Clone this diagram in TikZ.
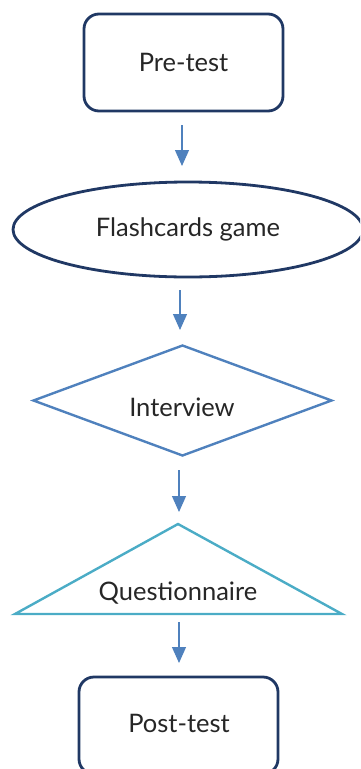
\documentclass[tikz,border=0pt]{standalone}
\usepackage{fontspec}
\setmainfont{Lato}
\usetikzlibrary{arrows.meta,shapes.geometric}
\definecolor{navy}{HTML}{203864}
\definecolor{midblue}{HTML}{4F81BD}
\definecolor{cyanb}{HTML}{4BACC6}
\definecolor{txt}{HTML}{262626}
\tikzset{
  lbl/.style={font=\fontsize{25.5}{28}\selectfont, text=txt, inner sep=0pt},
  rbox/.style={draw=navy, line width=2.8pt, rounded corners=15pt, minimum width=199pt, minimum height=97pt, lbl},
  oval/.style={draw=navy, line width=2.8pt, ellipse, minimum width=350pt, minimum height=95pt, lbl},
  dmd/.style={draw=midblue, line width=2.4pt, diamond, minimum width=299pt, minimum height=111pt, aspect=2.7, lbl},
  arr/.style={draw=midblue, line width=1.2pt, -{Triangle[width=14pt,length=16pt]}},
}
\begin{document}
\begin{tikzpicture}[x=1pt,y=-1pt]
\useasboundingbox (0,0) rectangle (360,769);
\clip (0,0) rectangle (360,769);
\node[rbox] (pre) at (183.5,62.5) {Pre-test};
\node[oval] (flash) at (188,229.5) {Flashcards game};
\node[dmd] (int) at (182.5,400.5) {};
\node[lbl] (intl) at (182,407) {Interview};
\coordinate (tA) at (178,524);
\coordinate (tL) at (15,614);
\coordinate (tR) at (342,614);
\draw[cyanb, line width=2.4pt, line join=miter] (tA) -- (tL) -- (tR) -- cycle;
\node[lbl] (q) at (178,593) {Questionnaire};
\node[rbox] (post) at (178.5,725.5) {};
\node[lbl] (postl) at (179,723) {Post-test};
\coordinate (a1s) at (182,125); \coordinate (a1e) at (182,166);
\coordinate (a2s) at (180,290); \coordinate (a2e) at (180,330);
\coordinate (a3s) at (179,470); \coordinate (a3e) at (179,512);
\coordinate (a4s) at (179,622); \coordinate (a4e) at (179,663);
\draw[arr] (a1s) -- (a1e);
\draw[arr] (a2s) -- (a2e);
\draw[arr] (a3s) -- (a3e);
\draw[arr] (a4s) -- (a4e);
\end{tikzpicture}
\end{document}
